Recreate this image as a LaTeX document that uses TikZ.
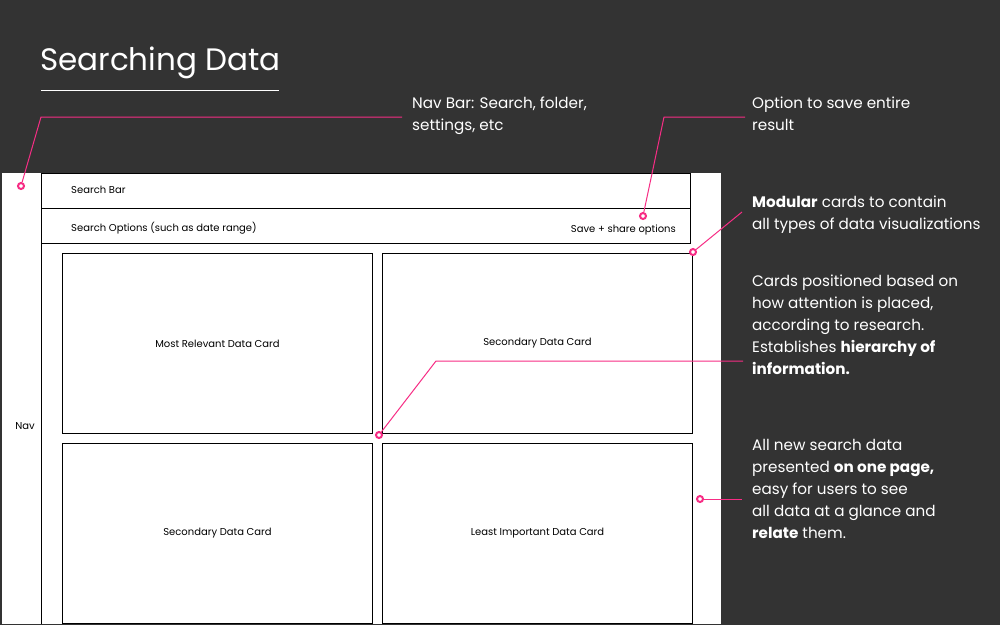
\documentclass[tikz,border=0pt]{standalone}
\usepackage{fontspec}
\setmainfont{Poppins}
\usetikzlibrary{positioning}
\definecolor{bgdark}{HTML}{333333}
\definecolor{hotpink}{HTML}{F72D85}

\tikzset{
  note/.style={anchor=north west, inner sep=0pt, align=left, text=white,
    font=\fontsize{15.2}{22}\selectfont},
  tiny/.style={inner sep=0pt, font=\fontsize{10}{12}\selectfont},
  bar/.style={draw=black, line width=1pt, minimum width=649pt, minimum height=35pt,
    inner sep=0pt, anchor=north west},
  card/.style={draw=black, line width=1pt, fill=white, minimum width=310pt,
    minimum height=180pt, inner sep=0pt, anchor=north west,
    font=\fontsize{10}{12}\selectfont},
  pin/.style={circle, draw=hotpink, line width=2pt, fill=white, inner sep=0pt,
    minimum size=6pt},
  leader/.style={hotpink, line width=1pt}
}

\begin{document}
\begin{tikzpicture}[x=1pt,y=-1pt]
\useasboundingbox (0,0) rectangle (1000,625);
\fill[bgdark] (0,0) rectangle (1000,625);

% Title
\node[anchor=west, inner sep=0pt, text=white, font=\fontsize{31}{40}\selectfont]
  (title) at (40,63) {Searching Data};
\draw[white, line width=1pt] (41,90) -- (279,90);

% Wireframe
\begin{scope}
\clip (0,0) rectangle (1000,623);
\fill[white] (2,173) rectangle (721,625);
\draw[line width=1pt] (41,173) -- (41,625);
\node[bar] (searchbar) at (41,173) {};
\node[bar] (optbar) at (41,208) {};
\node[tiny, anchor=west] (searchlbl) at (71,190) {Search Bar};
\node[tiny, anchor=west] (optlbl) at (71,228) {Search Options (such as date range)};
\node[tiny, anchor=east] (savelbl) at (676,230) {Save + share options};
\node[tiny] (nav) at (25,426) {Nav};

% Cards
\node[card] (card1) at (62,253) {Most Relevant Data Card};
\node[card] (card2) at (382,253) {Secondary Data Card};
\node[card] (card3) at (62,443) {Secondary Data Card};
\node[card] (card4) at (382,443) {Least Important Data Card};
\end{scope}

% Notes
\node[note] (navnote) at (412,97) {Nav Bar: Search, folder,\\settings, etc};
\node[note] (savenote) at (752,97) {Option to save entire\\result};
\node[note] (modnote) at (752,196) {\textbf{Modular} cards to contain\\all types of data visualizations};
\node[note] (posnote) at (752,275) {Cards positioned based on\\how attention is placed,\\according to research.\\Establishes \textbf{hierarchy of}\\\textbf{information.}};
\node[note] (pagenote) at (752,439) {All new search data\\presented \textbf{on one page,}\\easy for users to see\\all data at a glance and\\\textbf{relate} them.};

% Leaders
\coordinate (k1) at (41,117);
\coordinate (e1) at (402,117);
\coordinate (k2) at (664,117);
\coordinate (e2) at (745,117);
\coordinate (e3) at (742,212);
\coordinate (k4) at (436,361);
\coordinate (e4) at (743,361);
\coordinate (e5) at (742,499);

\node[pin] (p1) at (21,186) {};
\node[pin] (p2) at (643,216) {};
\node[pin] (p3) at (693,252) {};
\node[pin] (p4) at (379,435) {};
\node[pin] (p5) at (700,499) {};

\draw[leader] (p1) -- (k1) -- (e1);
\draw[leader] (p2) -- (k2) -- (e2);
\draw[leader] (p3) -- (e3);
\draw[leader] (p4) -- (k4) -- (e4);
\draw[leader] (p5) -- (e5);
\end{tikzpicture}
\end{document}
